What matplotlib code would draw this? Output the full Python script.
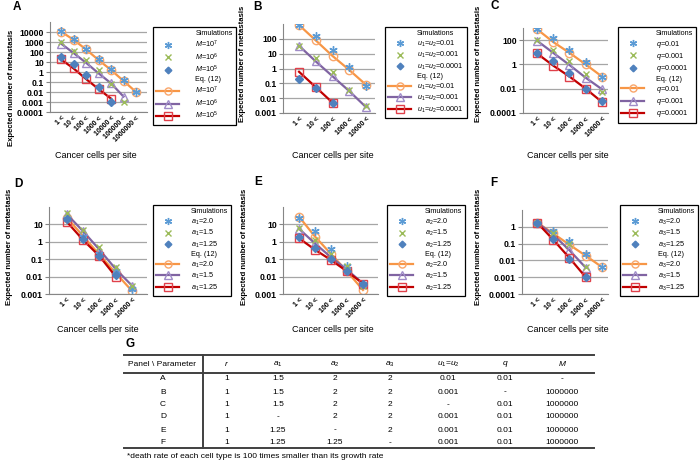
import matplotlib.pyplot as plt
import numpy as np
from matplotlib.lines import Line2D
from matplotlib.ticker import NullLocator

plt.rcParams['font.family'] = ['Liberation Sans', 'DejaVu Sans']
plt.rcParams['mathtext.fontset'] = 'custom'
plt.rcParams['mathtext.it'] = 'Liberation Sans:italic'
plt.rcParams['mathtext.rm'] = 'Liberation Sans'

nan = np.nan

# ---- data ----
cats_A = ['1 <', '10 <', '100 <', '1000 <', '10000 <', '100000 <', '1000000 <']
cats_5 = ['1 <', '10 <', '100 <', '1000 <', '10000 <']

# panel A : M
A_sim1 = [12000, 2200, 220, 20, 1.8, 0.17, 0.01]
A_sim2 = [900, 120, 15, 1.6, 0.07, 0.001, nan]
A_sim3 = [33, 6, 0.55, 0.035, 0.001, nan, nan]
A_eq1 = [11000, 1700, 180, 16, 1.6, 0.13, 0.01]
A_eq2 = [700, 80, 8.5, 0.75, 0.075, 0.0035, nan]
A_eq3 = [18, 2.3, 0.2, 0.02, 0.0022, nan, nan]
A_labels = [r'$M$=10$^7$', r'$M$=10$^6$', r'$M$=10$^5$']

# panel B : u1=u2
B_sim1 = [870, 160, 18, 1.3, 0.07]
B_sim2 = [35, 5, 0.6, 0.035, 0.003]
B_sim3 = [0.2, 0.045, 0.005, nan, nan]
B_eq1 = [850, 78, 7, 0.8, 0.08]
B_eq2 = [34, 3, 0.3, 0.03, 0.0025]
B_eq3 = [0.6, 0.055, 0.005, nan, nan]
B_labels = [r'$u_1$=$u_2$=0.01', r'$u_1$=$u_2$=0.001', r'$u_1$=$u_2$=0.0001']

# panel C : q
C_sim1 = [800, 160, 15, 1.5, 0.1]
C_sim2 = [100, 15, 1.8, 0.15, 0.005]
C_sim3 = [9, 1.8, 0.2, 0.01, 0.001]
C_eq1 = [800, 70, 9, 1, 0.1]
C_eq2 = [90, 9, 0.9, 0.08, 0.009]
C_eq3 = [8, 0.8, 0.1, 0.01, 0.0008]
C_labels = [r'$q$=0.01', r'$q$=0.001', r'$q$=0.0001']

# panel D : a1
D_sim1 = [20, 2, 0.2, 0.02, 0.002]
D_sim2 = [43, 5, 0.5, 0.035, 0.003]
D_sim3 = [20, 1.5, 0.15, 0.012, nan]
D_eq1 = [24, 2.1, 0.18, 0.016, 0.0015]
D_eq2 = [38, 4, 0.35, 0.027, 0.003]
D_eq3 = [14, 1.25, 0.15, 0.01, nan]
D_labels = [r'$a_1$=2.0', r'$a_1$=1.5', r'$a_1$=1.25']

# panel E : a2
E_sim1 = [24, 4, 0.4, 0.04, 0.004]
E_sim2 = [6, 1.2, 0.2, 0.04, 0.003]
E_sim3 = [1.8, 0.45, 0.1, 0.022, 0.004]
E_eq1 = [28, 2, 0.2, 0.02, 0.0017]
E_eq2 = [5.6, 0.8, 0.13, 0.025, 0.004]
E_eq3 = [1.6, 0.35, 0.09, 0.02, 0.004]
E_labels = [r'$a_2$=2.0', r'$a_2$=1.5', r'$a_2$=1.25']

# panel F : a3
F_sim1 = [1.8, 0.6, 0.15, 0.025, 0.004]
F_sim2 = [1.8, 0.45, 0.1, 0.004, nan]
F_sim3 = [1.8, 0.2, 0.012, 0.001, nan]
F_eq1 = [1.8, 0.4, 0.085, 0.019, 0.004]
F_eq2 = [1.8, 0.34, 0.04, 0.0037, nan]
F_eq3 = [1.8, 0.17, 0.014, 0.001, nan]
F_labels = [r'$a_3$=2.0', r'$a_3$=1.5', r'$a_3$=1.25']

# table G
tab_cols = ['Panel \\ Parameter', '$r$', '$a_1$', '$a_2$', '$a_3$', '$u_1$=$u_2$', '$q$', '$M$']
tab_rows = [
    ['A', '1', '1.5', '2', '2', '0.01', '0.01', '-'],
    ['B', '1', '1.5', '2', '2', '0.001', '-', '1000000'],
    ['C', '1', '1.5', '2', '2', '-', '0.01', '1000000'],
    ['D', '1', '-', '2', '2', '0.001', '0.01', '1000000'],
    ['E', '1', '1.25', '-', '2', '0.001', '0.01', '1000000'],
    ['F', '1', '1.25', '1.25', '-', '0.001', '0.01', '1000000'],
]
footnote = '*death rate of each cell type is 100 times smaller than its growth rate'

W, H = 700, 463
fig = plt.figure(figsize=(7, 4.63), dpi=100)


def fx(x):
    return x / W


def fy(y):
    return 1 - y / H


sim_styles = [
    dict(marker=(6, 2, 0), color='#5B9BD5', ms=6, mew=1.0),
    dict(marker='x', color='#9BBB59', ms=5, mew=1.0),
    dict(marker='D', color='#4F81BD', ms=4),
]
eq_styles = [
    dict(color='#F79646', lw=1.6, marker='o', mfc='none', mec='#F9A66B', ms=6, mew=1.0),
    dict(color='#8064A2', lw=1.6, marker='^', mfc='none', mec='#A08CC8', ms=6, mew=1.0),
    dict(color='#C00000', lw=1.6, marker='s', mfc='none', mec='#E0404A', ms=6, mew=1.0),
]


def panel(rect, xlim, cats, ylim, yticks, sims, eqs, labels, leg_xy,
          letter, letter_xy, ylab_xy, xlab_xy, pad=0.8):
    l, t, r, b = rect
    ax = fig.add_axes([fx(l), fy(b), (r - l) / W, (b - t) / H])
    x = np.arange(len(cats))
    eq_h = []
    for vals, st in zip(eqs, eq_styles):
        eq_h.append(ax.plot(x, vals, **st)[0])
    sim_h = []
    for vals, st in zip(sims, sim_styles):
        sim_h.append(ax.plot(x, vals, ls='none', zorder=3, **st)[0])
    ax.set_yscale('log')
    ax.set_ylim(ylim)
    ax.set_xlim(xlim)
    ax.set_yticks(yticks)
    ax.set_yticklabels([np.format_float_positional(v, trim='-') for v in yticks],
                       fontsize=6.3, fontweight='bold')
    ax.yaxis.set_minor_locator(NullLocator())
    ax.set_xticks(x)
    ax.set_xticklabels(cats, rotation=45, ha='right', va='top', rotation_mode='anchor',
                       fontsize=5, fontweight='bold')
    ax.grid(True, axis='y', color='#A6A6A6', lw=0.9)
    ax.set_axisbelow(True)
    for s in ['top', 'right']:
        ax.spines[s].set_visible(False)
    for s in ['left', 'bottom']:
        ax.spines[s].set_color('#868686')
    ax.tick_params(axis='both', colors='#868686', length=3, width=0.8, labelcolor='black', pad=1.5)
    ax.tick_params(axis='x', length=0, pad=2)

    blank = Line2D([], [], ls='none', marker='')
    handles = [blank] + sim_h + [blank] + eq_h
    labs = ['Simulations'] + labels + ['Eq. (12)'] + labels
    ax.legend(handles, labs, loc='upper left', bbox_to_anchor=(fx(leg_xy[0]), fy(leg_xy[1])),
              bbox_transform=fig.transFigure, fontsize=5.2, frameon=True, fancybox=False,
              edgecolor='black', framealpha=1, borderpad=0.45, labelspacing=0.18,
              handlelength=3.2, handletextpad=pad, borderaxespad=0, markerscale=0.85)
    ax.get_legend().get_frame().set_linewidth(0.9)

    fig.text(fx(letter_xy[0]), fy(letter_xy[1]), letter, fontsize=8.5, fontweight='bold',
             ha='center', va='center')
    fig.text(fx(ylab_xy[0]), fy(ylab_xy[1]), 'Expected number of metastasis', rotation=90,
             fontsize=5.6, fontweight='bold', ha='center', va='center')
    fig.text(fx(xlab_xy[0]), fy(xlab_xy[1]), 'Cancer cells per site', fontsize=6.5,
             ha='center', va='center')
    return ax


panel((50, 22, 147, 112), (-0.88, 6.88), cats_A, (1e-4, 1e5),
      [1e-4, 1e-3, 1e-2, 1e-1, 1, 10, 100, 1000, 1e4],
      [A_sim1, A_sim2, A_sim3], [A_eq1, A_eq2, A_eq3], A_labels, (153, 27),
      'A', (17, 7), (12, 88), (96, 155), pad=2.2)
panel((283, 24, 375, 113), (-0.96, 4.54), cats_5, (1e-3, 1e3),
      [1e-3, 1e-2, 1e-1, 1, 10, 100],
      [B_sim1, B_sim2, B_sim3], [B_eq1, B_eq2, B_eq3], B_labels, (385, 27),
      'B', (258, 7), (243, 64), (333, 155))
panel((523, 28, 608, 113), (-0.86, 4.37), cats_5, (1e-4, 1e3),
      [1e-4, 1e-2, 1, 100],
      [C_sim1, C_sim2, C_sim3], [C_eq1, C_eq2, C_eq3], C_labels, (618, 27),
      'C', (495, 6), (478, 64), (568, 155), pad=1.6)
panel((49, 207, 147, 294), (-1.1, 4.92), cats_5, (1e-3, 1e2),
      [1e-3, 1e-2, 1e-1, 1, 10],
      [D_sim1, D_sim2, D_sim3], [D_eq1, D_eq2, D_eq3], D_labels, (153, 205),
      'D', (18, 184), (10, 247), (98, 329), pad=1.6)
panel((283, 207, 378, 294), (-1.0, 4.94), cats_5, (1e-3, 1e2),
      [1e-3, 1e-2, 1e-1, 1, 10],
      [E_sim1, E_sim2, E_sim3], [E_eq1, E_eq2, E_eq3], E_labels, (387, 205),
      'E', (258, 182), (244, 247), (333, 329), pad=1.6)
panel((522, 210, 608, 294), (-0.92, 4.37), cats_5, (1e-4, 10),
      [1e-4, 1e-3, 1e-2, 1e-1, 1],
      [F_sim1, F_sim2, F_sim3], [F_eq1, F_eq2, F_eq3], F_labels, (620, 205),
      'F', (494, 183), (478, 247), (568, 329), pad=1.6)

# ---- table G ----
fig.text(fx(130), fy(344), 'G', fontsize=8.5, fontweight='bold', ha='center', va='center')
col_x = [163, 227, 278, 335, 390, 448, 505, 562]
row_y = [379, 392, 405, 417, 430, 443]
tl, tr = 124, 594
for yy, lw in [(355, 1.4), (373, 1.4), (448, 1.4)]:
    fig.add_artist(Line2D([fx(tl), fx(tr)], [fy(yy), fy(yy)], color='#404040', lw=lw))
fig.add_artist(Line2D([fx(203), fx(203)], [fy(355), fy(448)], color='#404040', lw=1.4))
for j, name in enumerate(tab_cols):
    cx = 162 if j == 0 else col_x[j]
    fig.text(fx(cx), fy(364), name, fontsize=6, ha='center', va='center')
for i, row in enumerate(tab_rows):
    for j, val in enumerate(row):
        fig.text(fx(col_x[j]), fy(row_y[i]), val, fontsize=6, ha='center', va='center')
fig.text(fx(127), fy(457), footnote, fontsize=6, ha='left', va='center')

fig.savefig('out.png', dpi=100)
